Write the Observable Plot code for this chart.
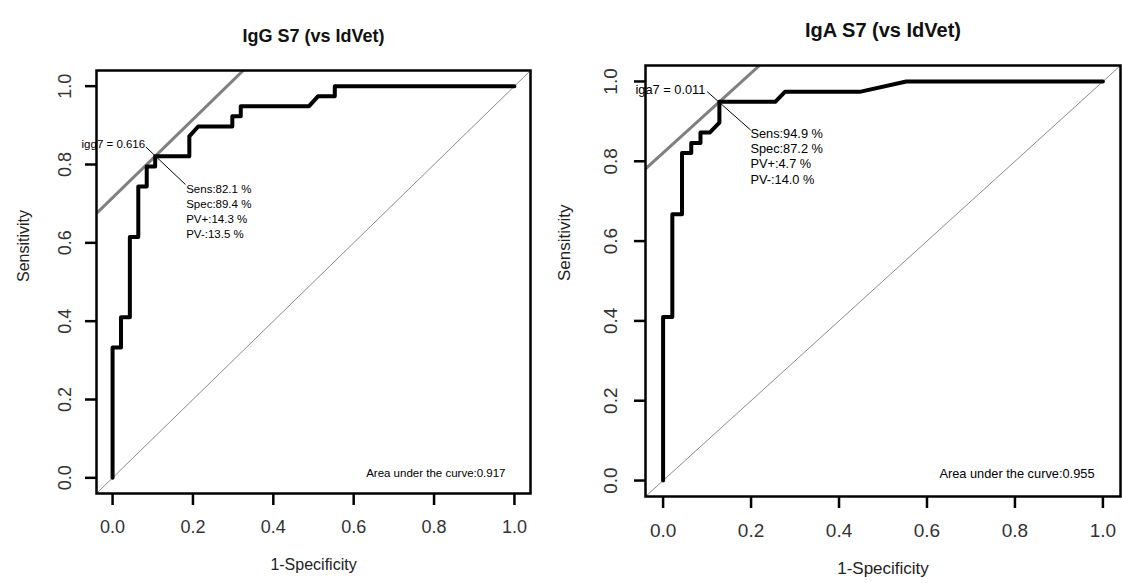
<!DOCTYPE html>
<html><head><meta charset="utf-8">
<script src="https://cdn.jsdelivr.net/npm/d3@7"></script>
<script src="https://cdn.jsdelivr.net/npm/@observablehq/plot@0.6"></script>
<style>
body{margin:0;background:#fff;}
#wrap{position:relative;width:1122px;height:583px;overflow:hidden;background:#fff;}
#wrap > div{position:absolute;top:0;}
svg{font-family:"Liberation Sans",Arial,sans-serif;overflow:visible;}
</style></head><body>
<div id="wrap"><div id="p1" style="left:0"></div><div id="p2" style="left:561px"></div></div>
<script>
// ---- data ----
const tickValues = [0, 0.2, 0.4, 0.6, 0.8, 1.0];
const titles = ["IgG S7 (vs IdVet)", "IgA S7 (vs IdVet)"];
const xLabel = "1-Specificity";
const yLabel = "Sensitivity";

const iggFpr  = [0,0,0.021,0.021,0.043,0.043,0.064,0.064,0.085,0.085,0.106,0.106,0.191,0.191,0.213,0.298,0.298,0.319,0.319,0.489,0.511,0.553,0.553,1];
const iggSens = [0,0.333,0.333,0.41,0.41,0.615,0.615,0.744,0.744,0.795,0.795,0.821,0.821,0.872,0.897,0.897,0.923,0.923,0.949,0.949,0.974,0.974,1,1];

const igaFpr  = [0,0,0.021,0.021,0.043,0.043,0.064,0.064,0.085,0.085,0.106,0.128,0.128,0.255,0.277,0.447,0.553,1];
const igaSens = [0,0.41,0.41,0.667,0.667,0.821,0.821,0.846,0.846,0.872,0.872,0.897,0.949,0.949,0.974,0.974,1,1];

const cutLabels = ["igg7 = 0.616", "iga7 = 0.011"];
const optFpr  = [0.106, 0.128];
const optSens = [0.821, 0.949];
const statTexts = [
  ["Sens:82.1 %", "Spec:89.4 %", "PV+:14.3 %", "PV-:13.5 %"],
  ["Sens:94.9 %", "Spec:87.2 %", "PV+:4.7 %", "PV-:14.0 %"]
];
const aucValues = ["0.917", "0.955"];
const tangentIntercepts = [0.715, 0.821];

// ---- drawing ----
const dom = [-0.04, 1.04];
const fmt = d3.format(".1f");

function panel(el, o) {
  const W = 561, H = 583;
  const kx = (dom[1]-dom[0])/(W-o.ml-o.mr), ky = (dom[1]-dom[0])/(H-o.mt-o.mb);
  const roc = o.fpr.map((x,i)=>({x, y:o.sens[i]}));
  const opt = {x:o.optX, y:o.optY};
  const leader = [
    {x: opt.x + o.lead[0]*kx, y: opt.y - o.lead[1]*ky},
    {x: opt.x + o.lead[2]*kx, y: opt.y - o.lead[3]*ky}
  ];
  const chart = Plot.plot({
    width: W, height: H,
    marginLeft: o.ml, marginRight: o.mr, marginTop: o.mt, marginBottom: o.mb,
    x: {domain: dom}, y: {domain: dom},
    marks: [
      Plot.link([dom], {x1: d=>d[0], y1: d=>d[0], x2: d=>d[1], y2: d=>d[1], stroke:"#8a8a8a", strokeWidth:1}),
      Plot.link([o.icpt], {x1: dom[0], y1: d=>dom[0]+d, x2: dom[1], y2: d=>dom[1]+d, stroke:"#808080", strokeWidth:3, clip:true}),
      Plot.line(roc, {x:"x", y:"y", stroke:"black", strokeWidth:4}),
      Plot.line(leader, {x:"x", y:"y", stroke:"black", strokeWidth:1}),
      Plot.text([opt], {x:"x", y:"y", text:()=>o.cut, textAnchor:"end", dx:o.cutDx, dy:o.cutDy, fontSize:o.small, fill:"black"}),
      Plot.text([opt], {x:"x", y:"y", text:()=>o.stats.join("\n"), textAnchor:"start", lineAnchor:"top", lineHeight:o.lh, dx:o.statDx, dy:o.statDy, fontSize:o.small, fill:"black"}),
      Plot.text([o.auc], {text:d=>"Area under the curve:"+d, frameAnchor:"bottom-right", textAnchor:"end", dx:o.aucDx, dy:o.aucDy, fontSize:o.small, fill:"black"}),
      Plot.frame({stroke:"black", strokeWidth:2.5}),
      Plot.axisX({ticks:tickValues, tickFormat:fmt, tickSize:12, tickPadding:o.xPad, fontSize:o.tick, strokeWidth:2.5, label:null, fill:"#333"}),
      Plot.axisY({ticks:tickValues, tickFormat:fmt, tickSize:11, tickPadding:o.yPad, tickRotate:-90, fontSize:o.tick, strokeWidth:2.5, label:null, fill:"#333"}),
      Plot.text([o.title], {frameAnchor:"top", dy:o.titleDy, fontSize:o.titleSize, fontWeight:"bold", fill:"#111"}),
      Plot.text([xLabel], {frameAnchor:"bottom", dy:o.xlDy, fontSize:o.lab, fill:"#222"}),
      Plot.text([yLabel], {frameAnchor:"left", dx:o.ylDx, rotate:-90, fontSize:o.lab, fill:"#222"})
    ]
  });
  el.appendChild(chart);
}

panel(document.getElementById("p1"), {
  ml:96, mr:31, mt:70, mb:90,
  fpr:iggFpr, sens:iggSens, optX:optFpr[0], optY:optSens[0], icpt:tangentIntercepts[0],
  lead:[-9,-9,30,28], cut:cutLabels[0], cutDx:-10, cutDy:-12,
  stats:statTexts[0], statDx:31, statDy:26, lh:1.3, small:11.5,
  auc:aucValues[0], aucDx:-25, aucDy:-17,
  tick:18, xPad:15, yPad:15, title:titles[0], titleDy:-41, titleSize:18,
  lab:16, xlDy:76, ylDx:-73
});
panel(document.getElementById("p2"), {
  ml:84, mr:2, mt:65, mb:87,
  fpr:igaFpr, sens:igaSens, optX:optFpr[1], optY:optSens[1], icpt:tangentIntercepts[1],
  lead:[-12,-10,31,28], cut:cutLabels[1], cutDx:-14, cutDy:-12,
  stats:statTexts[1], statDx:31, statDy:25, lh:1.2, small:12.8,
  auc:aucValues[1], aucDx:-26, aucDy:-19,
  tick:19, xPad:15, yPad:18, title:titles[1], titleDy:-43, titleSize:20,
  lab:17, xlDy:77, ylDx:-81
});
</script>
</body></html>
